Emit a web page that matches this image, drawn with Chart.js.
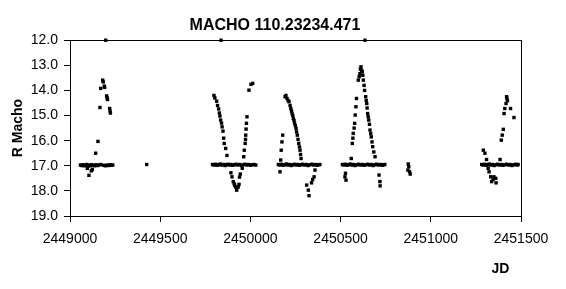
<!DOCTYPE html>
<html>
<head>
<meta charset="utf-8">
<script src="https://cdn.jsdelivr.net/npm/chart.js@4.4.1/dist/chart.umd.min.js"></script>
<style>
  html, body { margin: 0; padding: 0; background: #fff; }
  #wrap { width: 566px; height: 289px; }
</style>
</head>
<body>
<div id="wrap"><canvas id="myChart"></canvas></div>
<script>
const jd = [
  // 1993 season
  2449058, 2449065, 2449072, 2449079, 2449086, 2449093, 2449100, 2449108, 2449115, 2449121,
  2449128, 2449136, 2449145, 2449152, 2449160, 2449171, 2449185, 2449196, 2449205, 2449213,
  2449222, 2449230, 2449237,
  2449096, 2449105, 2449118, 2449124,
  2449142, 2449155, 2449166, 2449170, 2449181, 2449184, 2449190, 2449192, 2449203, 2449206,
  2449208, 2449220, 2449222, 2449224, 2449198,
  2449425,
  // 1995 season
  2449790, 2449798, 2449806, 2449815, 2449823, 2449832, 2449841, 2449850, 2449860, 2449868,
  2449876, 2449884, 2449893, 2449902, 2449911, 2449920, 2449930, 2449940, 2449950, 2449960,
  2449970, 2449980, 2449990, 2450000, 2450010, 2450020, 2450030,
  2449798, 2449803, 2449813, 2449818, 2449824, 2449828, 2449831, 2449835, 2449840, 2449843,
  2449848, 2449852, 2449855, 2449863, 2449870, 2449837,
  2449892, 2449898, 2449905, 2449910, 2449913, 2449918, 2449924, 2449932, 2449937, 2449940,
  2449944,
  2449955, 2449963, 2449966, 2449971, 2449973, 2449974, 2449976, 2449978, 2449981, 2449992,
  2450003, 2450013,
  // 1996 season
  2450155, 2450163, 2450172, 2450181, 2450190, 2450199, 2450208, 2450217, 2450226, 2450235,
  2450244, 2450253, 2450262, 2450271, 2450280, 2450290, 2450300, 2450310, 2450320, 2450330,
  2450340, 2450350, 2450360, 2450370, 2450378, 2450385,
  2450164, 2450168, 2450171, 2450175, 2450179,
  2450192, 2450197, 2450203, 2450209, 2450214, 2450220, 2450224, 2450228, 2450231, 2450235,
  2450238, 2450242, 2450245, 2450249, 2450253, 2450256, 2450260, 2450264, 2450268, 2450272,
  2450275, 2450278, 2450281,
  2450312, 2450321, 2450325, 2450339, 2450345, 2450353, 2450358,
  // 1997 season
  2450510, 2450518, 2450526, 2450535, 2450544, 2450553, 2450562, 2450571, 2450580, 2450590,
  2450600, 2450610, 2450620, 2450630, 2450640, 2450650, 2450660, 2450670, 2450680, 2450690,
  2450700, 2450710, 2450720, 2450730, 2450738, 2450745,
  2450524, 2450527, 2450530,
  2450559, 2450565, 2450568, 2450570, 2450575, 2450578, 2450581, 2450585, 2450588, 2450598,
  2450603, 2450607, 2450610, 2450613, 2450617, 2450620, 2450623, 2450626, 2450635, 2450630,
  2450633, 2450639, 2450642, 2450645, 2450647, 2450650, 2450653, 2450656, 2450660, 2450663,
  2450667, 2450670, 2450674, 2450678, 2450684, 2450691,
  2450713, 2450718, 2450719,
  // 1998 season
  2450875, 2450878, 2450873, 2450882, 2450886,
  // 1999 season
  2451282, 2451290, 2451298, 2451306, 2451315, 2451324, 2451333, 2451342, 2451351, 2451360,
  2451370, 2451380, 2451390, 2451400, 2451410, 2451420, 2451430, 2451440, 2451450, 2451460,
  2451470, 2451478, 2451484,
  2451291, 2451300, 2451309, 2451318, 2451323, 2451332, 2451337, 2451345, 2451350, 2451360,
  2451362, 2451384, 2451391, 2451396, 2451402, 2451406, 2451410, 2451417, 2451420, 2451422,
  2451425, 2451442, 2451461
];

const rMacho = [
  // 1993 season
  16.97, 16.99, 16.96, 17.00, 16.98, 16.95, 17.02, 16.97, 17.00, 16.96,
  16.98, 17.00, 16.96, 16.99, 16.97, 16.95, 16.98, 17.00, 16.97, 16.99,
  16.96, 16.98, 16.97,
  17.10, 17.38, 17.20, 17.15,
  16.50, 16.03, 14.68, 13.92, 13.59, 13.66, 13.83, 13.88, 14.22, 14.30,
  14.36, 14.72, 14.82, 14.90, 12.00,
  16.95,
  // 1995 season
  16.95, 16.97, 16.94, 16.98, 16.96, 16.93, 16.97, 16.95, 16.99, 16.96,
  16.94, 16.97, 16.95, 16.98, 16.96, 16.94, 16.97, 16.95, 16.99, 16.96,
  16.94, 16.97, 16.95, 16.98, 16.96, 16.95, 16.97,
  14.20, 14.30, 14.43, 14.60, 14.74, 14.90, 15.02, 15.18, 15.30, 15.45,
  15.62, 15.90, 16.11, 16.31, 16.59, 12.00,
  17.28, 17.44, 17.63, 17.72, 17.77, 17.85, 17.97, 17.85, 17.74, 17.45,
  17.33,
  17.10, 16.64, 16.38, 16.11, 15.95, 15.78, 15.54, 15.31, 15.05, 13.99,
  13.76, 13.72,
  // 1996 season
  16.95, 16.97, 16.94, 16.98, 16.96, 16.93, 16.97, 16.95, 16.99, 16.96,
  16.94, 16.97, 16.95, 16.98, 16.96, 16.94, 16.97, 16.95, 16.99, 16.96,
  16.94, 16.97, 16.95, 16.98, 16.96, 16.95,
  17.24, 16.77, 16.38, 16.05, 15.78,
  14.25, 14.20, 14.32, 14.40, 14.45, 14.60, 14.72, 14.82, 14.92, 15.00,
  15.12, 15.20, 15.31, 15.40, 15.51, 15.65, 15.78, 15.95, 16.11, 16.25,
  16.38, 16.55, 16.71,
  17.77, 17.97, 18.19, 17.68, 17.55, 17.44, 17.17,
  // 1997 season
  16.95, 16.97, 16.94, 16.98, 16.96, 16.93, 16.97, 16.95, 16.99, 16.96,
  16.94, 16.97, 16.95, 16.98, 16.96, 16.94, 16.97, 16.95, 16.99, 16.96,
  16.94, 16.97, 16.95, 16.98, 16.96, 16.95,
  17.44, 17.30, 17.57,
  16.71, 16.11, 15.90, 15.71, 15.50, 15.31, 14.98, 14.65, 14.32, 13.59,
  13.45, 13.33, 13.15, 13.06, 13.20, 13.26, 13.40, 13.59, 12.00, 13.80,
  14.00, 14.25, 14.40, 14.52, 14.70, 14.92, 15.05, 15.18, 15.35, 15.58,
  15.72, 15.85, 16.05, 16.24, 16.45, 16.64,
  17.37, 17.63, 17.80,
  // 1998 season
  16.93, 17.04, 17.17, 17.24, 17.33,
  // 1999 season
  16.95, 16.97, 16.94, 16.98, 16.96, 16.93, 16.97, 16.95, 16.99, 16.96,
  16.94, 16.97, 16.95, 16.98, 16.96, 16.94, 16.97, 16.95, 16.99, 16.96,
  16.94, 16.97, 16.95,
  16.38, 16.50, 16.75, 17.10, 17.24, 17.44, 17.63, 17.55, 17.44, 17.50,
  17.68, 16.75, 15.98, 15.78, 15.55, 14.92, 14.72, 14.52, 14.25, 14.32,
  14.41, 14.72, 15.08
];

const xTicks = [2449000, 2449500, 2450000, 2450500, 2451000, 2451500];
const yTicks = [12.0, 13.0, 14.0, 15.0, 16.0, 17.0, 18.0, 19.0];

const points = jd.map((d, i) => ({ x: d, y: rMacho[i] }));

const fontFamily = "'Liberation Sans', Arial, sans-serif";

// frame round the plot area (top and right sides)
const frame = {
  id: 'frame',
  beforeDatasetsDraw(chart) {
    const { ctx, chartArea: a } = chart;
    ctx.save();
    ctx.strokeStyle = '#000';
    ctx.lineWidth = 1;
    ctx.strokeRect(Math.round(a.left) + 0.5, Math.round(a.top) + 0.5,
      Math.round(a.right - a.left), Math.round(a.bottom - a.top));
    ctx.restore();
  }
};

const ctx = document.getElementById('myChart');

new Chart(ctx, {
  type: 'scatter',
  data: {
    datasets: [{
      label: 'R Macho',
      data: points,
      backgroundColor: '#000',
      borderColor: '#000',
      borderWidth: 0,
      pointStyle: 'rect',
      pointRadius: 2.4,
      clip: false
    }]
  },
  options: {
    responsive: true,
    maintainAspectRatio: false,
    animation: false,
    layout: { padding: { left: 0, right: 16, top: 0, bottom: 0 } },
    scales: {
      x: {
        type: 'linear',
        min: xTicks[0],
        max: xTicks[xTicks.length - 1],
        afterBuildTicks: (s) => { s.ticks = xTicks.map(v => ({ value: v })); },
        afterFit: (s) => { s.height = 73; },
        grid: { drawOnChartArea: false, drawTicks: true, tickLength: 6, color: '#000' },
        border: { color: '#000', width: 1 },
        ticks: {
          color: '#000',
          font: { family: fontFamily, size: 14 },
          padding: 9,
          maxRotation: 0,
          autoSkip: false,
          callback: (v) => String(v)
        },
        title: {
          display: true,
          text: 'JD   ',
          align: 'end',
          color: '#000',
          font: { family: fontFamily, size: 14, weight: 'bold' },
          padding: { top: 0, bottom: 11 }
        }
      },
      y: {
        type: 'linear',
        reverse: true,
        min: yTicks[0],
        max: yTicks[yTicks.length - 1],
        afterBuildTicks: (s) => { s.ticks = yTicks.map(v => ({ value: v })); },
        afterFit: (s) => { s.width = 70; },
        grid: { drawOnChartArea: false, drawTicks: true, tickLength: 6, color: '#000' },
        border: { color: '#000', width: 1 },
        ticks: {
          color: '#000',
          font: { family: fontFamily, size: 14 },
          padding: 6,
          callback: (v) => Number(v).toFixed(1)
        },
        title: {
          display: true,
          text: 'R Macho',
          color: '#000',
          font: { family: fontFamily, size: 14, weight: 'bold' },
          padding: { top: 10, bottom: 0 }
        }
      },
      yRight: {
        type: 'linear',
        position: 'right',
        min: yTicks[0],
        max: yTicks[yTicks.length - 1],
        afterFit: (s) => { s.width = 29; },
        grid: { display: false },
        border: { display: false },
        ticks: { display: false }
      }
    },
    plugins: {
      legend: { display: false },
      tooltip: { enabled: false },
      title: {
        display: true,
        text: 'MACHO 110.23234.471',
        color: '#000',
        font: { family: fontFamily, size: 16, weight: 'bold' },
        padding: { top: 16, bottom: 5 }
      }
    }
  },
  plugins: [frame]
});
</script>
</body>
</html>
